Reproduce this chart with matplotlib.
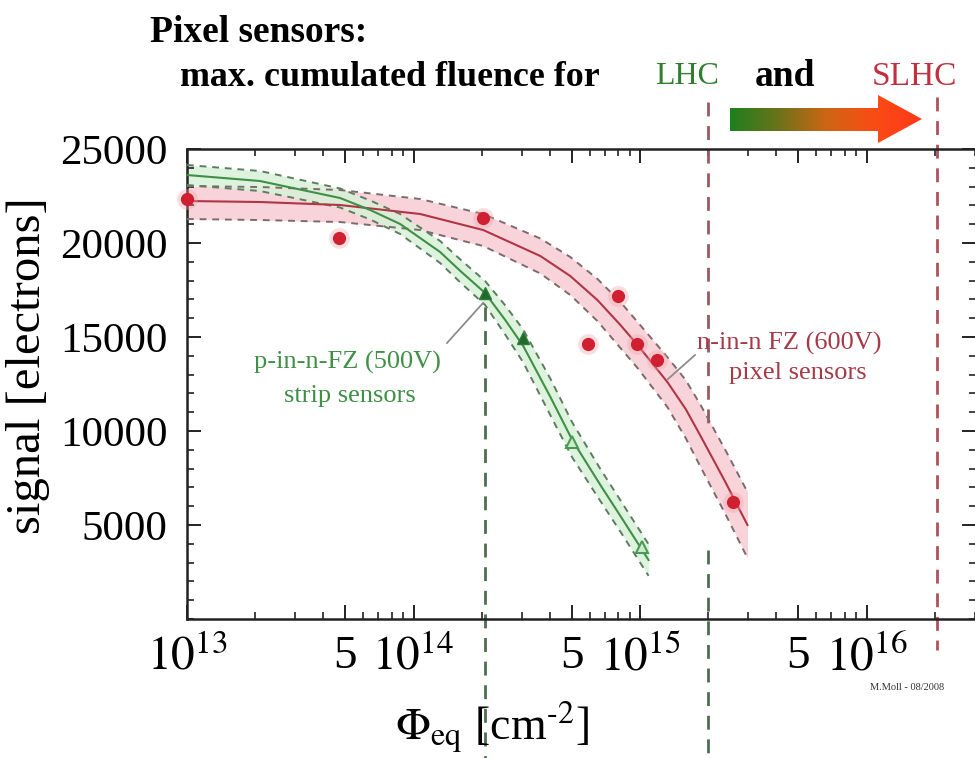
import numpy as np
import matplotlib
matplotlib.use('Agg')
import matplotlib.pyplot as plt
from matplotlib.patches import Polygon
from matplotlib.ticker import FixedLocator, FixedFormatter, NullFormatter, MultipleLocator
import matplotlib.transforms as mtransforms

plt.rcParams['font.family'] = ['Liberation Serif', 'DejaVu Serif']
plt.rcParams['mathtext.fontset'] = 'stix'

# ---------------- data ----------------
# n-in-n FZ (600V) pixel sensors: measured points
red_pts_x = [1.0e13, 4.7e13, 2.03e14, 8.0e14, 5.9e14, 9.7e14, 1.19e15, 2.57e15]
red_pts_y = [22340, 20270, 21330, 17180, 14630, 14630, 13780, 6220]

# fit curve and band for pixel sensors
red_fit_x = [1.00e13, 2.10e13, 4.74e13, 1.07e14, 2.03e14, 3.63e14, 4.92e14, 6.48e14,
             8.19e14, 9.75e14, 1.32e15, 1.59e15, 1.85e15, 2.38e15, 2.98e15]
red_fit_y = [22234, 22180, 22021, 21542, 20691, 19308, 18244, 16968,
             15638, 14574, 12606, 11170, 9734, 7287, 5000]
red_up_y  = [23031, 22978, 22818, 22340, 21542, 20240, 19255, 18093,
             16861, 15797, 13935, 12712, 11383, 8989, 6755]
red_lo_y  = [21276, 21223, 21116, 20690, 19840, 18378, 17234, 15851,
             14415, 13350, 11276, 9627, 8085, 5585, 3245]

# p-in-n-FZ (500V) strip sensors: measured points
green_pts_x = [2.07e14, 3.03e14, 5.0e14, 1.02e15]
green_pts_y = [17340, 14950, 9410, 3830]
green_pts_filled = [True, True, False, False]

# fit curve and band for strip sensors
green_fit_x = [1.00e13, 2.10e13, 4.74e13, 6.44e13, 8.73e13, 1.31e14, 1.61e14, 2.07e14,
               2.54e14, 3.05e14, 4.02e14, 5.02e14, 6.68e14, 8.19e14, 1.09e15]
green_fit_y = [23616, 23297, 22393, 21755, 21010, 19521, 18510, 17340,
               15904, 14521, 11808, 9521, 7127, 5479, 3138]
green_up_y  = [24150, 23830, 22900, 22260, 21540, 20106, 19122, 17978,
               16681, 15393, 12782, 10452, 7979, 6314, 3979]
green_lo_y  = [23084, 22765, 21888, 21250, 20478, 18936, 17899, 16702,
               15127, 13649, 10835, 8590, 6276, 4644, 2298]

# fluence markers
strip_lhc_fluence = 2.07e14
pixel_lhc_fluence = 2.0e15
pixel_slhc_fluence = 2.05e16

x_major = [1e13, 5e13, 1e14, 5e14, 1e15, 5e15, 1e16]
x_major_labels = ['$10^{13}$', '5', '$10^{14}$', '5', '$10^{15}$', '5', '$10^{16}$']
y_major = [5000, 10000, 15000, 20000, 25000]
y_major_labels = ['5000', '10000', '15000', '20000', '25000']

# ---------------- figure ----------------
W, H = 975, 758
fig = plt.figure(figsize=(W / 100, H / 100), dpi=100)
ax = fig.add_axes([187 / W, (H - 619) / H, (976 - 187) / W, (619 - 149) / H])
ax.set_xscale('log')
ax.set_xlim(1e13, 10 ** 16.483)
ax.set_ylim(0, 25000)

RED_LINE = '#b03545'
RED_PT = '#d01f30'
RED_FILL = '#f9d3da'
RED_DASH = '#7d6a6c'
GREEN_LINE = '#3f8f45'
GREEN_FILL = '#d9f1d9'
GREEN_DASH = '#5c7d5e'

# pixel band
ax.fill_between(red_fit_x, red_lo_y, red_up_y, color=RED_FILL, lw=0, zorder=1)
ax.plot(red_fit_x, red_up_y, color=RED_DASH, lw=1.4, dashes=(3.5, 3), zorder=3)
ax.plot(red_fit_x, red_lo_y, color=RED_DASH, lw=1.4, dashes=(3.5, 3), zorder=3)
ax.plot(red_fit_x, red_fit_y, color=RED_LINE, lw=1.5, zorder=4)

# strip band
ax.fill_between(green_fit_x, green_lo_y, green_up_y, color=GREEN_FILL, lw=0, alpha=0.85, zorder=1.5)
ax.plot(green_fit_x, green_up_y, color=GREEN_DASH, lw=1.4, dashes=(3.5, 3), zorder=3)
ax.plot(green_fit_x, green_lo_y, color=GREEN_DASH, lw=1.4, dashes=(3.5, 3), zorder=3)
ax.plot(green_fit_x, green_fit_y, color=GREEN_LINE, lw=1.5, zorder=4)

# points
ax.plot(red_pts_x, red_pts_y, 'o', ms=15, color='#f4a0a8', alpha=0.35, mec='none', zorder=5, clip_on=False)
ax.plot(red_pts_x, red_pts_y, 'o', ms=9.5, color=RED_PT, mec='none', zorder=6, clip_on=False)
for gx, gy, filled in zip(green_pts_x, green_pts_y, green_pts_filled):
    if filled:
        ax.plot([gx], [gy], '^', ms=8, color='#1f6a2a', mec='#2f7a3a', zorder=6)
    else:
        ax.plot([gx], [gy], '^', ms=8, mfc='#cdeccd', mec='#4a9a55', mew=1.5, zorder=6)

# vertical fluence lines (extend outside the axes)
bt = mtransforms.blended_transform_factory(ax.transData, ax.transAxes)
ax.plot([strip_lhc_fluence] * 2, [0.664, -0.296], transform=bt, clip_on=False,
        color='#4d6e50', lw=2, dashes=(5, 3.5), zorder=2)
ax.plot([pixel_lhc_fluence] * 2, [1.10, 0.402], transform=bt, clip_on=False,
        color='#9a5a60', lw=2, dashes=(5, 3.5), zorder=2)
ax.plot([pixel_lhc_fluence] * 2, [0.147, -0.296], transform=bt, clip_on=False,
        color='#4d6e50', lw=2, dashes=(5, 3.5), zorder=2)
ax.plot([pixel_slhc_fluence] * 2, [1.11, -0.066], transform=bt, clip_on=False,
        color='#b0505a', lw=2, dashes=(5, 3.5), zorder=2)

# ticks
ax.xaxis.set_major_locator(FixedLocator(x_major))
ax.xaxis.set_major_formatter(FixedFormatter(x_major_labels))
minors = [m * 10 ** e for e in range(13, 17) for m in (2, 3, 4, 6, 7, 8, 9)]
ax.xaxis.set_minor_locator(FixedLocator(minors))
ax.xaxis.set_minor_formatter(NullFormatter())
ax.yaxis.set_major_locator(FixedLocator(y_major))
ax.yaxis.set_major_formatter(FixedFormatter(y_major_labels))
ax.yaxis.set_minor_locator(MultipleLocator(1000))
ax.tick_params(which='both', direction='in', top=True, right=True, color='#222222')
ax.tick_params(which='major', length=10, width=1.4)
ax.tick_params(which='minor', length=5, width=1.2)
ax.tick_params(axis='x', which='major', labelsize=34, pad=12)
ax.tick_params(axis='y', which='major', labelsize=31, pad=14)
for s in ax.spines.values():
    s.set_linewidth(1.8)
    s.set_color('#222222')

# axis labels
fig.text(28 / W, 1 - 366 / H, 'signal [electrons]', rotation=90, ha='center', va='center', fontsize=35)
fig.text(492 / W, 1 - 727 / H, r'$\Phi_{\rm eq}$ [cm$^{\text{-}2}$]', ha='center', va='center', fontsize=33)
fig.text(907 / W, 1 - 688 / H, 'M.Moll - 08/2008', ha='center', va='center', fontsize=7.5, color='#333333')

# curve labels
fig.text(347 / W, 1 - 362 / H, 'p-in-n-FZ (500V)', ha='center', va='center', fontsize=19, color=GREEN_LINE)
fig.text(350 / W, 1 - 396 / H, 'strip sensors', ha='center', va='center', fontsize=19, color=GREEN_LINE)
fig.text(789 / W, 1 - 343 / H, 'n-in-n FZ (600V)', ha='center', va='center', fontsize=19, color='#a83a48')
fig.text(798 / W, 1 - 373 / H, 'pixel sensors', ha='center', va='center', fontsize=19, color='#a83a48')

# title texts
fig.text(150 / W, 1 - 32 / H, 'Pixel sensors:', ha='left', va='center', fontsize=27, fontweight='bold')
fig.text(180 / W, 1 - 77 / H, 'max. cumulated fluence for', ha='left', va='center', fontsize=25.8, fontweight='bold')
fig.text(655 / W, 1 - 77 / H, 'LHC', ha='left', va='center', fontsize=23, color='#2f7f2f')
fig.text(755 / W, 1 - 77 / H, 'and', ha='left', va='center', fontsize=27, fontweight='bold')
fig.text(872 / W, 1 - 77 / H, 'SLHC', ha='left', va='center', fontsize=24, color='#c03040')

# overlay in pixel coordinates for decorations
ov = fig.add_axes([0, 0, 1, 1], zorder=10)
ov.set_xlim(0, W)
ov.set_ylim(H, 0)
ov.axis('off')
ov.patch.set_alpha(0)

# pointer lines
ov.plot([447, 483], [343, 303], color='#8c8c8c', lw=1.3)
ov.plot([695, 668], [355, 379], color='#8c8c8c', lw=1.3)

# gradient arrow
arrow_verts = [(730, 108), (878, 108), (878, 95), (922, 119), (878, 143), (878, 131), (730, 131)]
poly = Polygon(arrow_verts, closed=True, facecolor='none', edgecolor='none')
ov.add_patch(poly)
cols = np.array([[0.12, 0.50, 0.12], [0.42, 0.45, 0.10], [0.80, 0.40, 0.08], [0.98, 0.30, 0.08], [1.0, 0.22, 0.10]])
pos = np.linspace(0, 1, len(cols))
t = np.linspace(0, 1, 256)
grad = np.stack([np.interp(t, pos, cols[:, k]) for k in range(3)], axis=-1)[None, :, :]
im = ov.imshow(grad, extent=[730, 922, 143, 95], aspect='auto', interpolation='bilinear')
im.set_clip_path(poly)
ov.set_xlim(0, W)
ov.set_ylim(H, 0)

fig.savefig('out.png', dpi=100)
